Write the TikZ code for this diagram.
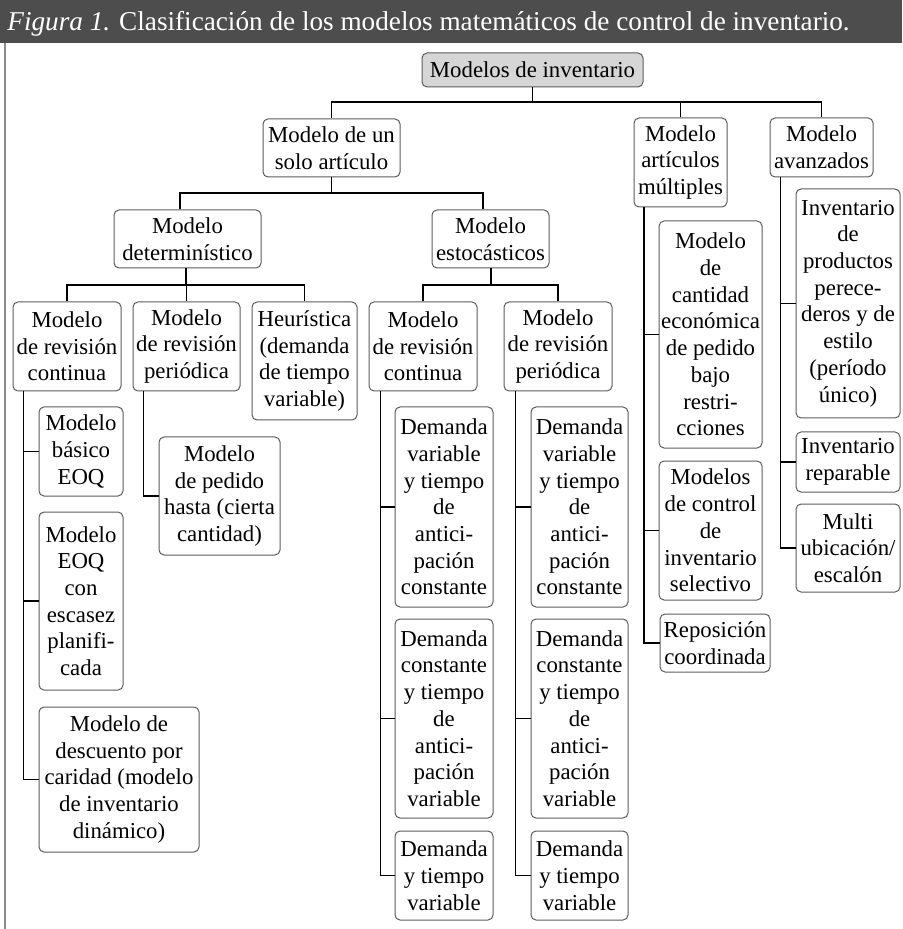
\documentclass[tikz,border=0pt]{standalone}
\usepackage{fontspec}
\setmainfont{Liberation Serif}
\definecolor{titlegray}{HTML}{4D4D4D}
\definecolor{rootgray}{HTML}{D6D6D6}
\definecolor{edgegray}{HTML}{5C5C5C}
\definecolor{framegray}{HTML}{8A8A8A}
\begin{document}
\begin{tikzpicture}[x=0.5pt, y=-0.5pt,
    modbox/.style={draw=edgegray, rounded corners=2.5pt, align=center, inner sep=1pt,
      line width=0.5pt, font=\fontsize{11.4}{13.35}\selectfont},
    wh/.style 2 args={minimum width=#1*0.5pt, minimum height=#2*0.5pt},
    link/.style={line width=0.6pt}]
            \useasboundingbox (0,0) rectangle (902,929);

            % title bar and frame
            \fill[titlegray] (0,0) rectangle (902,43);
            \node[anchor=base west, text=white, inner sep=0pt, font=\fontsize{13.6}{16}\selectfont] (title) at (7,31)
              {\textit{Figura 1.} Clasificación de los modelos matemáticos de control de inventario.};
            \draw[framegray, line width=0.75pt] (5,43) -- (5,929);

            % top levels
            \node[modbox, wh={221}{34}, fill=rootgray] (root) at (532.5,70) {Modelos de inventario};
            \node[modbox, wh={137}{58}] (solo) at (331.5,148) {Modelo de un\\solo artículo};
            \node[modbox, wh={93}{89}] (arti) at (680.5,162.5) {Modelo\\artículos\\múltiples};
            \node[modbox, wh={103}{59}] (avan) at (821.5,147.5) {Modelo\\avanzados};

            \node[modbox, wh={147}{58}] (det) at (187.5,239) {Modelo\\determinístico};
            \node[modbox, wh={117}{58}] (esto) at (490.5,239) {Modelo\\estocásticos};

            \node[modbox, wh={108}{89}] (dcont) at (67,346.5) {Modelo\\de revisión\\continua};
            \node[modbox, wh={107}{89}] (dper) at (186.5,346.5) {Modelo\\de revisión\\periódica};
            \node[modbox, wh={105}{118}] (heur) at (304.5,361) {Heurística\\(demanda\\de tiempo\\variable)};
            \node[modbox, wh={108}{89}] (econt) at (423,346.5) {Modelo\\de revisión\\continua};
            \node[modbox, wh={108}{89}] (eper) at (558,346.5) {Modelo\\de revisión\\periódica};

            % leaves
            \node[modbox, wh={84}{89}] (eoqbas) at (81,451.5) {Modelo\\básico\\EOQ};
            \node[modbox, wh={84}{178}] (eoqesc) at (81,601) {Modelo\\EOQ\\con\\escasez\\planifi-\\cada};
            \node[modbox, wh={160}{145}] (desc) at (119,779.5) {Modelo de\\descuento por\\caridad (modelo\\de inventario\\dinámico)};
            \node[modbox, wh={121}{118}] (pedido) at (219.5,496) {Modelo\\de pedido\\hasta (cierta\\cantidad)};

            \node[modbox, wh={98}{200}] (econta) at (444,507) {Demanda\\variable\\y tiempo\\de\\antici-\\pación\\constante};
            \node[modbox, wh={98}{199}] (econtb) at (444,718.5) {Demanda\\constante\\y tiempo\\de\\antici-\\pación\\variable};
            \node[modbox, wh={98}{89}] (econtc) at (444,875.5) {Demanda\\y tiempo\\variable};
            \node[modbox, wh={97}{200}] (epera) at (579.5,507) {Demanda\\variable\\y tiempo\\de\\antici-\\pación\\constante};
            \node[modbox, wh={97}{199}] (eperb) at (579.5,718.5) {Demanda\\constante\\y tiempo\\de\\antici-\\pación\\variable};
            \node[modbox, wh={97}{89}] (eperc) at (579.5,875.5) {Demanda\\y tiempo\\variable};

            \node[modbox, wh={103}{227}] (cant) at (710.5,334.5) {Modelo\\de\\cantidad\\económica\\de pedido\\bajo\\restri-\\cciones};
            \node[modbox, wh={103}{139}] (selec) at (710.5,530.5) {Modelos\\de control\\de\\inventario\\selectivo};
            \node[modbox, wh={110}{58}] (repos) at (715,643) {Reposición\\coordinada};

            \node[modbox, wh={104}{229}] (perec) at (848,303.5) {Inventario\\de\\productos\\perece-\\deros y de\\estilo\\(período\\único)};
            \node[modbox, wh={104}{60}] (repar) at (848,462) {Inventario\\reparable};
            \node[modbox, wh={104}{88}] (multi) at (848,548) {Multi\\ubicación/\\escalón};

            % buses
            \coordinate (rootbus) at (532.5,102);
            \coordinate (solobus) at (331.5,193);
            \coordinate (detbus) at (186,285);
            \coordinate (estobus) at (491,285);

            \draw[link] (root.south) -- (rootbus);
            \draw[link] (solo.north) |- (rootbus) -| (avan.north);
            \draw[link] (arti.north) -- (arti.north |- rootbus);

            \draw[link] (solo.south) -- (solobus);
            \draw[link] ([xshift=-3.75pt]det.north) |- (solobus) -| ([xshift=-3.75pt]esto.north);

            \draw[link] (det.south -| detbus) -- (detbus);
            \draw[link] (dcont.north) |- (detbus) -| (heur.north);
            \draw[link] (dper.north) -- (dper.north |- detbus);

            \draw[link] (esto.south -| estobus) -- (estobus);
            \draw[link] (econt.north) |- (estobus) -| (eper.north);

            % side branches
            \draw[link] ([xshift=5.5pt]dcont.south west) |- (eoqbas.west);
            \draw[link] ([xshift=5.5pt]dcont.south west) |- (eoqesc.west);
            \draw[link] ([xshift=5.5pt]dcont.south west) |- (desc.west);
            \draw[link] ([xshift=5.5pt]dper.south west) |- (pedido.west);

            \draw[link] ([xshift=6pt]econt.south west) |- (econta.west);
            \draw[link] ([xshift=6pt]econt.south west) |- (econtb.west);
            \draw[link] ([xshift=6pt]econt.south west) |- (econtc.west);
            \draw[link] ([xshift=6pt]eper.south west) |- (epera.west);
            \draw[link] ([xshift=6pt]eper.south west) |- (eperb.west);
            \draw[link] ([xshift=6pt]eper.south west) |- (eperc.west);

            \draw[link] ([xshift=5.25pt]arti.south west) |- (cant.west);
            \draw[link] ([xshift=5.25pt]arti.south west) |- (selec.west);
            \draw[link] ([xshift=5.25pt]arti.south west) |- (repos.west);

            \draw[link] ([xshift=5.5pt]avan.south west) |- (perec.west);
            \draw[link] ([xshift=5.5pt]avan.south west) |- (repar.west);
            \draw[link] ([xshift=5.5pt]avan.south west) |- (multi.west);
        \end{tikzpicture}
\end{document}
